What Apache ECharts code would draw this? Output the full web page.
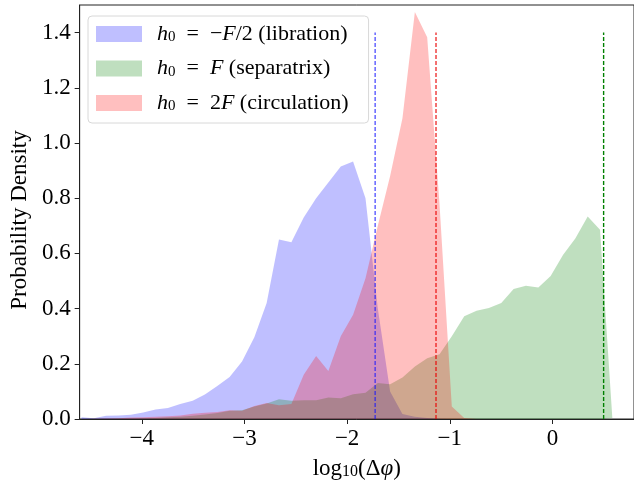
<!DOCTYPE html>
<html><head><meta charset="utf-8">
<script src="https://cdn.jsdelivr.net/npm/echarts@6/dist/echarts.min.js"></script>
<style>html,body{margin:0;padding:0;background:#fff}#c{width:634px;height:485px}</style>
</head><body><div id="c"></div>
<script>
// bin centres, log10(Δφ)
const logDphi = [-4.588, -4.468, -4.348, -4.227, -4.107, -3.987, -3.867, -3.746, -3.626, -3.505,
  -3.386, -3.265, -3.145, -3.024, -2.904, -2.784, -2.664, -2.543, -2.423, -2.302,
  -2.183, -2.062, -1.942, -1.821, -1.701, -1.581, -1.461, -1.340, -1.220, -1.100,
  -0.980, -0.859, -0.739, -0.619, -0.498, -0.378, -0.258, -0.137, -0.017, 0.103,
  0.223, 0.344, 0.464, 0.584];
// h0 = -F/2 (libration)
const libration = [0.006, 0.003, 0.012, 0.013, 0.015, 0.024, 0.034, 0.040, 0.054, 0.066,
  0.089, 0.120, 0.152, 0.208, 0.296, 0.420, 0.650, 0.640, 0.730, 0.800,
  0.857, 0.915, 0.933, 0.800, 0.400, 0.100, 0.018, 0.008, 0.004, 0.001,
  0, 0, 0, 0, 0, 0, 0, 0, 0, 0, 0, 0, 0, 0];
// h0 = F (separatrix)
const separatrix = [0, 0.001, 0.001, 0.002, 0.002, 0.003, 0.004, 0.006, 0.008, 0.012,
  0.016, 0.022, 0.030, 0.032, 0.045, 0.056, 0.072, 0.066, 0.068, 0.068,
  0.078, 0.075, 0.090, 0.095, 0.130, 0.126, 0.150, 0.190, 0.220, 0.235,
  0.300, 0.372, 0.392, 0.402, 0.420, 0.471, 0.483, 0.476, 0.518, 0.594,
  0.654, 0.734, 0.686, 0.004];
// h0 = 2F (circulation)
const circulation = [0, 0.001, 0.002, 0.003, 0.005, 0.006, 0.008, 0.010, 0.013, 0.019,
  0.023, 0.025, 0.032, 0.030, 0.047, 0.058, 0.050, 0.054, 0.160, 0.228,
  0.174, 0.300, 0.378, 0.510, 0.700, 0.880, 1.090, 1.475, 1.383, 0.780,
  0.045, 0.004, 0, 0, 0, 0, 0, 0, 0, 0, 0, 0, 0, 0];
const seriesNames = ['libration', 'separatrix', 'circulation'];
const legendLabels = [
  '{i|h}{s|0}\u2002=\u2002−{i|F}/2 (libration)',
  '{i|h}{s|0}\u2002=\u2002{i|F} (separatrix)',
  '{i|h}{s|0}\u2002=\u20022{i|F} (circulation)'
];
// dashed reference lines (x position, height)
const refX = [-1.727, 0.499, -1.134];
const refHeight = 1.4;

const FONT = '"Liberation Serif", "DejaVu Serif", serif';
const fills = ['rgba(0,0,255,0.25)', 'rgba(0,128,0,0.25)', 'rgba(255,0,0,0.25)'];
const lineColors = ['rgba(20,20,255,0.7)', '#008000', 'rgba(235,0,0,0.8)'];
const values = [libration, separatrix, circulation];
const minus = v => (v < 0 ? '−' : '') + Math.abs(v);

const series = [];
values.forEach((v, i) => {
  series.push({
    name: seriesNames[i], type: 'line', data: logDphi.map((x, j) => [x, v[j]]),
    symbol: 'none', showSymbol: false, lineStyle: { width: 0, color: fills[i] },
    itemStyle: { color: fills[i] },
    areaStyle: { color: fills[i], opacity: 1 }, silent: true, z: 2
  });
});
refX.forEach((m, i) => {
  series.push({
    name: 'ref' + i, type: 'line', data: [[m, 0], [m, refHeight]], symbol: 'none',
    lineStyle: { color: lineColors[i], width: 1.4, type: [4, 2] }, silent: true, z: 5
  });
});

const richBase = {
  i: { fontFamily: FONT, fontStyle: 'italic', fontSize: 22, color: '#000' },
  s: { fontFamily: FONT, fontSize: 15, color: '#000', verticalAlign: 'bottom', lineHeight: 14 }
};

const chart = echarts.init(document.getElementById('c'));
chart.setOption({
  animation: false,
  grid: { left: 76, right: -1, top: 5, bottom: 63, show: true, borderColor: '#222', borderWidth: 1 },
  legend: {
    orient: 'vertical', left: 88, top: 16,
    data: seriesNames.map((n, i) => ({ name: n, icon: 'rect', itemStyle: { color: fills[i] }, lineStyle: { width: 0 } })),
    itemWidth: 46, itemHeight: 16, itemGap: 12.5,
    padding: [7, 20, 9, 8],
    borderColor: '#d8d8d8', borderWidth: 1, borderRadius: 4, backgroundColor: 'rgba(255,255,255,0.8)',
    formatter: n => legendLabels[seriesNames.indexOf(n)],
    textStyle: { fontFamily: FONT, fontSize: 22, color: '#000', lineHeight: 22, padding: [0, 0, 0, 10], rich: richBase }
  },
  xAxis: {
    type: 'value', min: -4.606, max: 0.795, splitLine: { show: false },
    axisLine: { onZero: false, lineStyle: { color: '#222', width: 1 } },
    axisTick: { length: 5, lineStyle: { color: '#222' } },
    axisLabel: { formatter: minus, fontFamily: FONT, fontSize: 23, color: '#000', margin: 8, showMinLabel: false, showMaxLabel: false },
    name: 'log{s|10}(Δ{i|φ})', nameLocation: 'middle', nameGap: 38,
    nameTextStyle: { fontFamily: FONT, fontSize: 23, color: '#000',
      rich: { i: { fontFamily: FONT, fontStyle: 'italic', fontSize: 23, color: '#000' },
              s: { fontFamily: FONT, fontSize: 16, color: '#000', verticalAlign: 'bottom', lineHeight: 14 } } }
  },
  yAxis: {
    type: 'value', min: 0, max: 1.5, interval: 0.2, splitLine: { show: false },
    axisLine: { show: true, onZero: false, lineStyle: { color: '#222', width: 1 } },
    axisTick: { show: true, length: 5, lineStyle: { color: '#222' } },
    axisLabel: { formatter: v => v.toFixed(1), fontFamily: FONT, fontSize: 23, color: '#000', margin: 9, showMaxLabel: false },
    name: 'Probability Density', nameLocation: 'middle', nameGap: 44,
    nameTextStyle: { fontFamily: FONT, fontSize: 23, color: '#000', padding: [0, 16, 0, 0] }
  },
  series: series
});
</script></body></html>
